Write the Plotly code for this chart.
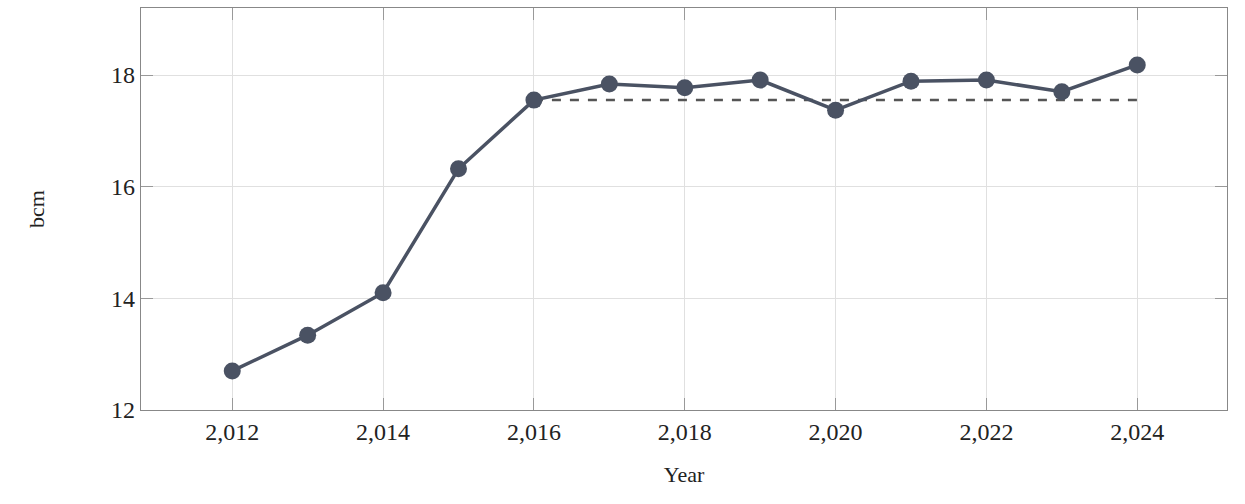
import plotly.graph_objects as go

years = [2012, 2013, 2014, 2015, 2016, 2017, 2018, 2019, 2020, 2021, 2022, 2023, 2024]
bcm = [12.70, 13.34, 14.10, 16.32, 17.55, 17.84, 17.77, 17.91, 17.37, 17.89, 17.91, 17.70, 18.18]
avg_years = [2016, 2024]
avg_value = [17.55, 17.55]

fig = go.Figure()
fig.add_trace(go.Scatter(x=avg_years, y=avg_value, mode="lines",
                         line=dict(color="#555555", width=2.5, dash="dash"),
                         showlegend=False, hoverinfo="skip"))
fig.add_trace(go.Scatter(x=years, y=bcm, mode="lines+markers",
                         line=dict(color="#4a5263", width=3.5),
                         marker=dict(color="#4a5263", size=17),
                         showlegend=False))

axis_common = dict(showgrid=True, gridcolor="#e0e0e0", gridwidth=1,
                   showline=True, linecolor="#888888", linewidth=1.3, mirror="ticks",
                   ticks="inside", ticklen=12, tickcolor="#999999", tickwidth=1,
                   zeroline=False, tickfont=dict(size=24))
fig.update_xaxes(range=[2010.79, 2025.19], dtick=2, tickformat=",d",
                 title=dict(text="Year", standoff=22, font=dict(size=22)), **axis_common)
fig.update_yaxes(range=[12, 19.2], dtick=2,
                 title=dict(text="bcm", standoff=60, font=dict(size=22)), **axis_common)
fig.update_layout(width=1245, height=504,
                  margin=dict(l=141, r=18, t=8, b=94),
                  plot_bgcolor="white", paper_bgcolor="white",
                  font=dict(family="Liberation Serif, Times New Roman, serif", size=22, color="#222222"))
fig.write_html("out.html")
